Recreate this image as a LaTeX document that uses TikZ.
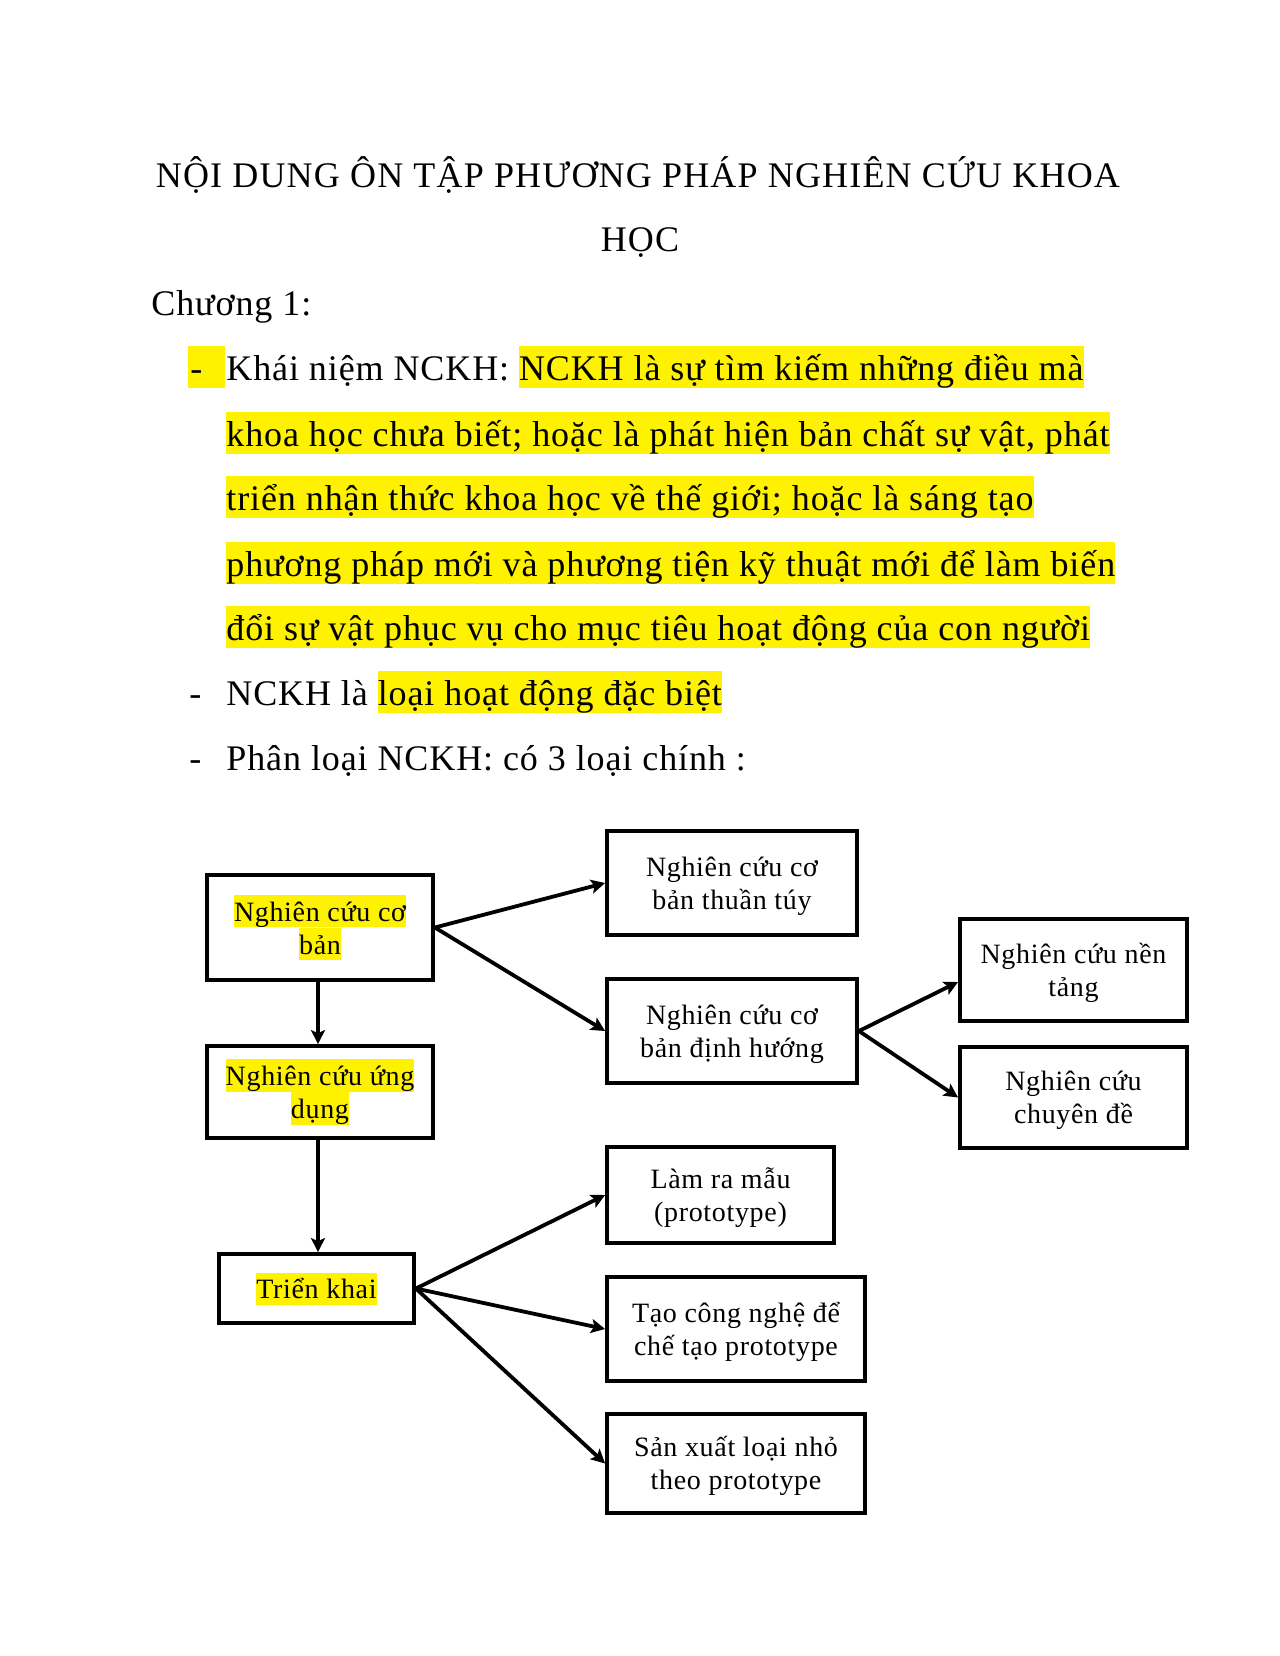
\documentclass[tikz,border=0pt]{standalone}
\usepackage{fontspec}
\setmainfont{Liberation Serif}
\newfontfamily\bodyfont[LetterSpace=2.5]{Liberation Serif}
\newfontfamily\titlefont[LetterSpace=3.3]{Liberation Serif}
\newfontfamily\boxfont[LetterSpace=2.4]{Liberation Serif}
\usetikzlibrary{arrows.meta}
\newcommand{\hlA}[1]{{\setlength{\fboxsep}{0pt}\colorbox{yellow}{\rule[-4pt]{0pt}{21pt}#1}}}
\newcommand{\hlB}[1]{{\setlength{\fboxsep}{0pt}\colorbox{yellow}{\rule[-3pt]{0pt}{16pt}#1}}}
\newcommand{\tstrut}{\rule{0pt}{13pt}}
\newcommand{\bstrut}{\rule[-3pt]{0pt}{3pt}}
\begin{document}
\begin{tikzpicture}[x=0.5pt,y=-0.5pt,
  box/.style={draw=black, line width=1.9pt, align=center, inner sep=0pt,
    font=\boxfont\fontsize{14}{16.5}\selectfont},
  arr/.style={line width=1.9pt, -{Stealth[length=7pt,width=7pt,inset=1.5pt]}},
  body/.style={anchor=base west, inner sep=0pt, font=\bodyfont\fontsize{18}{21}\selectfont},
  ttl/.style={anchor=base, inner sep=0pt, font=\titlefont\fontsize{18}{21}\selectfont}]
\useasboundingbox[fill=white] (0,0) rectangle (1280,1656);

% title
\node[ttl] (title1) at (638,187) {NỘI DUNG ÔN TẬP PHƯƠNG PHÁP NGHIÊN CỨU KHOA};
\node[ttl] (title2) at (640,251) {HỌC};
\node[body] (ch) at (151,315) {Chương 1:};

% bullets
\node[body] (d1) at (188,380) {\hlA{\makebox[18.5pt][l]{\hspace{1pt}-}}};
\node[body] (l1) at (226,380) {Khái niệm NCKH: \hlA{NCKH là sự tìm kiếm những điều mà}};
\node[body] (l2) at (226,446) {\hlA{khoa học chưa biết; hoặc là phát hiện bản chất sự vật, phát}};
\node[body] (l3) at (226,510) {\hlA{triển nhận thức khoa học về thế giới; hoặc là sáng tạo}};
\node[body] (l4) at (226,576) {\hlA{phương pháp mới và phương tiện kỹ thuật mới để làm biến}};
\node[body] (l5) at (226,640) {\hlA{đổi sự vật phục vụ cho mục tiêu hoạt động của con người}};
\node[body] (d6) at (189,705) {-};
\node[body] (l6) at (226,705) {NCKH là \hlA{loại hoạt động đặc biệt}};
\node[body] (d7) at (189,770) {-};
\node[body] (l7) at (226,770) {Phân loại NCKH: có 3 loại chính :};

% diagram boxes
\node[box, minimum width=113pt, minimum height=52.5pt] (A) at (320,927.5) {\hlB{Nghiên cứu cơ}\\\hlB{bản}};
\node[box, minimum width=113pt, minimum height=46pt] (B) at (320,1092) {\hlB{Nghiên cứu ứng}\\\hlB{dụng}};
\node[box, minimum width=97.5pt, minimum height=34.5pt] (C) at (316.5,1288.5) {\hlB{Triển khai}};
\node[box, minimum width=125pt, minimum height=52pt] (D) at (732,883) {\tstrut Nghiên cứu cơ\\bản thuần túy\bstrut};
\node[box, minimum width=125pt, minimum height=52pt] (E) at (732,1031) {\tstrut Nghiên cứu cơ\\bản định hướng\bstrut};
\node[box, minimum width=113.5pt, minimum height=51pt] (F) at (1073.5,970) {\tstrut Nghiên cứu nền\\tảng\bstrut};
\node[box, minimum width=113.5pt, minimum height=50.5pt] (G) at (1073.5,1097.5) {\tstrut Nghiên cứu\\chuyên đề\bstrut};
\node[box, minimum width=113.5pt, minimum height=48pt] (H) at (720.5,1195) {\tstrut Làm ra mẫu\\(prototype)\bstrut};
\node[box, minimum width=129pt, minimum height=52pt] (I) at (736,1329) {\tstrut Tạo công nghệ để\\chế tạo prototype\bstrut};
\node[box, minimum width=129pt, minimum height=49.5pt] (J) at (736,1463.5) {\tstrut Sản xuất loại nhỏ\\theo prototype\bstrut};

% connectors
\draw[arr] (A.east) -- (D.west);
\draw[arr] (A.east) -- (E.west);
\draw[arr] ([xshift=-1pt]A.south) -- ([xshift=-1pt]B.north);
\draw[arr] ([xshift=-1pt]B.south) -- ([xshift=-1pt]B.south |- C.north);
\draw[arr] (E.east) -- ([yshift=-6pt]F.west);
\draw[arr] (E.east) -- (G.west);
\draw[arr] (C.east) -- (H.west);
\draw[arr] (C.east) -- (I.west);
\draw[arr] (C.east) -- (J.west);
\end{tikzpicture}
\end{document}
